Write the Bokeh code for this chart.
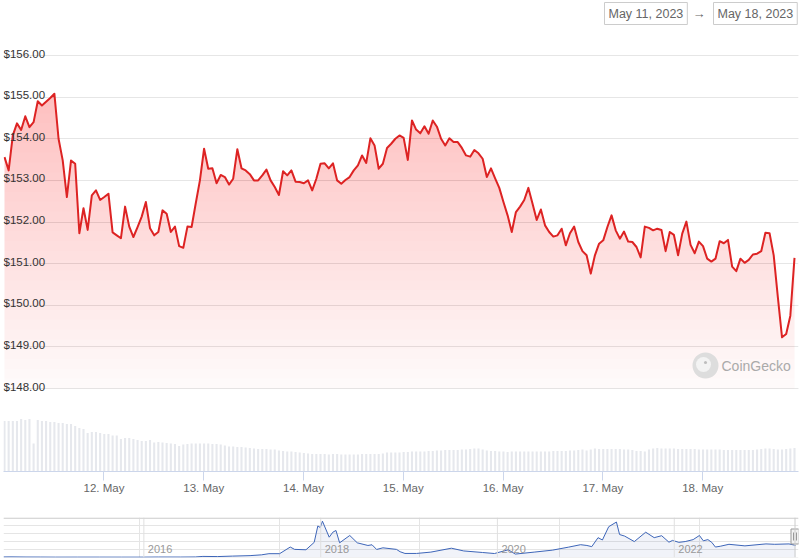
import numpy as np
import pandas as pd
from bokeh.plotting import figure
from bokeh.models import Range1d, FixedTicker, DatetimeTickFormatter, Label, Span, Grid
from bokeh.layouts import column
from bokeh.embed import file_html
from bokeh.resources import INLINE
from bokeh.core.properties import value

HOUR = 3600000.0
FONT = "Liberation Sans"

# ---------------- data ----------------
start_time = "2023-05-11 00:05"
prices = [
    153.56, 153.24, 154.08, 154.37, 154.21, 154.54, 154.28, 154.40, 154.90, 154.80,
    154.89, 154.98, 155.08, 154.00, 153.48, 152.60, 153.48, 153.40, 151.73, 152.33,
    151.81, 152.64, 152.76, 152.53, 152.60, 152.68, 151.75, 151.68, 151.61, 152.37,
    151.89, 151.64, 151.88, 152.13, 152.48, 151.85, 151.68, 151.76, 152.28, 152.20,
    151.76, 151.89, 151.42, 151.38, 151.89, 151.88, 152.45, 153.00, 153.76, 153.28,
    153.29, 152.93, 153.13, 153.08, 152.90, 153.04, 153.75, 153.29, 153.24, 153.15,
    153.00, 153.00, 153.12, 153.26, 153.00, 152.84, 152.65, 153.22, 153.12, 153.24,
    152.97, 152.96, 152.93, 153.00, 152.76, 153.04, 153.40, 153.41, 153.29, 153.41,
    153.00, 152.92, 153.01, 153.08, 153.24, 153.36, 153.60, 153.42, 154.01, 153.84,
    153.28, 153.40, 153.78, 153.88, 154.00, 154.08, 154.02, 153.49, 154.44, 154.22,
    154.13, 154.30, 154.12, 154.44, 154.29, 154.00, 153.84, 154.01, 153.92, 153.92,
    153.78, 153.60, 153.57, 153.73, 153.65, 153.52, 153.08, 153.29, 153.05, 152.82,
    152.48, 152.16, 151.76, 152.24, 152.37, 152.53, 152.82, 152.44, 152.05, 152.30,
    151.92, 151.76, 151.65, 151.68, 151.84, 151.44, 151.73, 151.89, 151.52, 151.30,
    151.20, 150.76, 151.20, 151.48, 151.56, 151.88, 152.16, 151.80, 151.60, 151.77,
    151.53, 151.52, 151.40, 151.15, 151.89, 151.86, 151.80, 151.84, 151.81, 151.30,
    151.76, 151.69, 151.20, 151.72, 152.01, 151.45, 151.25, 151.53, 151.42, 151.12,
    151.05, 151.12, 151.54, 151.49, 151.57, 150.93, 150.82, 151.12, 151.02, 151.09,
    151.22, 151.24, 151.30, 151.74, 151.73, 151.20, 150.19, 149.23, 149.31, 149.75,
    151.14,
]
volumes_musd = [
    101, 101, 101, 101, 105, 103, 105, 56, 103, 101,
    101, 99, 99, 97, 97, 95, 95, 91, 87, 85,
    77, 79, 79, 77, 75, 75, 72, 72, 65, 67,
    67, 65, 63, 61, 61, 63, 58, 59, 58, 57,
    56, 55, 51, 54, 55, 56, 56, 56, 56, 56,
    55, 55, 54, 52, 50, 50, 49, 49, 48, 47,
    46, 45, 45, 45, 44, 44, 42, 41, 40, 40,
    39, 38, 37, 36, 35, 35, 35, 35, 34, 35,
    35, 34, 34, 34, 34, 34, 35, 35, 35, 35,
    35, 36, 38, 38, 38, 38, 39, 39, 40, 40,
    40, 40, 41, 41, 42, 42, 43, 43, 43, 43,
    44, 44, 45, 46, 46, 44, 42, 41, 41, 40,
    40, 39, 40, 40, 40, 40, 40, 40, 40, 40,
    40, 40, 41, 41, 41, 41, 42, 42, 43, 44,
    42, 44, 46, 45, 45, 45, 45, 45, 45, 44,
    44, 43, 41, 41, 40, 44, 46, 47, 46, 46,
    46, 46, 45, 45, 45, 45, 45, 44, 44, 44,
    44, 44, 44, 43, 43, 43, 43, 43, 43, 43,
    43, 44, 45, 46, 46, 45, 44, 44, 45, 46,
    47,
]
day_ticks = ["2023-05-12", "2023-05-13", "2023-05-14", "2023-05-15",
             "2023-05-16", "2023-05-17", "2023-05-18"]
price_ticks = [148, 149, 150, 151, 152, 153, 154, 155, 156]
price_labels = ["$148.00", "$149.00", "$150.00", "$151.00", "$152.00",
                "$153.00", "$154.00", "$155.00", "$156.00"]
range_labels = ["May 11, 2023", "May 18, 2023"]
brand = "CoinGecko"

nav_dates = [
    "2014-05-31", "2014-07-01", "2014-09-01", "2014-11-01", "2015-01-01", "2015-04-01", "2015-07-01", "2015-10-01", "2016-01-01", "2016-03-01",
    "2016-06-01", "2016-08-01", "2016-09-01", "2016-11-01", "2017-01-01", "2017-03-15", "2017-05-01", "2017-06-01", "2017-07-15", "2017-08-28",
    "2017-09-15", "2017-11-01", "2017-12-05", "2017-12-20", "2017-12-30", "2018-01-08", "2018-02-05", "2018-02-20", "2018-03-05", "2018-03-20",
    "2018-05-01", "2018-06-01", "2018-07-15", "2018-08-01", "2018-08-20", "2018-09-15", "2018-11-10", "2018-11-25", "2018-12-15", "2019-02-01",
    "2019-04-01", "2019-06-25", "2019-08-15", "2019-11-01", "2019-12-20", "2020-02-15", "2020-03-15", "2020-06-01", "2020-08-15", "2020-10-20",
    "2020-12-10", "2021-01-05", "2021-01-25", "2021-02-20", "2021-03-10", "2021-04-05", "2021-05-07", "2021-05-20", "2021-06-10", "2021-07-20",
    "2021-09-05", "2021-10-10", "2021-11-10", "2021-12-10", "2021-12-25", "2022-01-20", "2022-02-15", "2022-03-20", "2022-04-15", "2022-05-01",
    "2022-05-20", "2022-06-05", "2022-06-20", "2022-07-10", "2022-08-15", "2022-10-20", "2023-01-15", "2023-02-20", "2023-04-20", "2023-05-18",
]
nav_prices = [
    3, 4, 2, 1.5, 0.5, 0.8, 0.8, 0.5, 0.5, 2,
    1.5, 3, 10, 8, 14, 20, 30, 45, 45, 130,
    100, 95, 190, 400, 380, 461, 256, 320, 342, 184,
    278, 184, 150, 159, 99, 120, 100, 70, 48, 48,
    65, 115, 80, 60, 47, 95, 40, 65, 90, 128,
    160, 150, 135, 250, 220, 390, 450, 290, 270, 200,
    320, 250, 275, 192, 215, 190, 200, 225, 278, 210,
    225, 190, 130, 140, 165, 145, 170, 165, 170, 151,
]
year_ticks = ["2016-01-01", "2018-01-01", "2020-01-01", "2022-01-01"]
year_labels = ["2016", "2018", "2020", "2022"]


def ms(s):
    return pd.Timestamp(s).value / 1e6


# ---------------- main chart ----------------
W = 800
FRAME_W = 795          # page x 3 .. 798
FRAME_H = 471          # page y 0 .. 471
PX_PER_USD = 41.63
t0 = ms(start_time)
N = len(prices)
xs = [t0 + i * HOUR for i in range(N)]

hpx = (N - 1) / 790.0  # hours per pixel
x_start = t0 - 1.0 * hpx * HOUR
x_end = t0 + (N - 1 + 4.0 * hpx) * HOUR
y_end = 156 + 55 / PX_PER_USD
y_start = y_end - FRAME_H / PX_PER_USD

p = figure(width=W, height=505, x_axis_type="datetime", y_axis_location=None,
           x_range=Range1d(x_start, x_end), y_range=Range1d(y_start, y_end),
           output_backend="svg", toolbar_location=None,
           min_border_left=3, min_border_right=2, min_border_top=0, min_border_bottom=34)
p.outline_line_color = None
p.background_fill_color = "white"
p.border_fill_color = "white"
p.xgrid.visible = False
p.extra_y_ranges = {"vol": Range1d(0, FRAME_H * 2)}

p.add_layout(Grid(dimension=1, ticker=FixedTicker(ticks=price_ticks),
                  grid_line_color="#e6e6e6", grid_line_width=1))

# volume bars
p.vbar(x=xs, top=volumes_musd, bottom=0, width=0.5 * HOUR, y_range_name="vol",
       fill_color="#e6e8ed", line_color=None)

# gradient fill under price line (stacked translucent layers)
pr = np.array(prices)
base = price_ticks[0]
top = pr.max()
n_layers = 30
levels = np.linspace(base, top, n_layers + 1)[:-1]
step = (top - base) / n_layers
prev_c = 0.0
for lo in levels:
    c = 0.02 + 0.18 * ((lo + step / 2) - base) / (top - base)
    a = 1 - (1 - c) / (1 - prev_c)
    prev_c = c
    p.varea(x=xs, y1=np.full(N, lo), y2=np.maximum(pr, lo),
            fill_color="#dc2626", fill_alpha=float(a))

p.line(x=xs, y=prices, line_color="#dd2323", line_width=2, line_join="round")

# y labels inside plot, just above each gridline
p.text(x=[x_start] * len(price_ticks),
       y=[t + 2.0 / PX_PER_USD for t in price_ticks], text=price_labels,
       text_baseline="alphabetic", text_align="left",
       text_font=value(FONT), text_font_size="11.5px", text_color="#333333")

# x axis
ax = p.xaxis[0]
ax.ticker = FixedTicker(ticks=[ms(d) for d in day_ticks])
ax.formatter = DatetimeTickFormatter(hours="%d. %b", hourmin="%d. %b", days="%d. %b",
                                     months="%d. %b", minutes="%d. %b")
ax.axis_line_color = "#ccd6eb"
ax.major_tick_line_color = "#ccd6eb"
ax.major_tick_out = 9
ax.major_tick_in = 0
ax.minor_tick_line_color = None
ax.major_label_standoff = 1
ax.major_label_text_font = FONT
ax.major_label_text_font_size = "11.5px"
ax.major_label_text_color = "#666666"

# watermark
def fx(px):
    return x_start + px / FRAME_W * (x_end - x_start)

def fy(px_from_top):
    return y_end - px_from_top / FRAME_H * (y_end - y_start)

p.scatter(x=[fx(702)], y=[fy(365)], size=26, marker="circle",
          fill_color="#dddddd", line_color=None)
p.scatter(x=[fx(700)], y=[fy(364)], size=15, marker="circle",
          fill_color="#f3f3f3", line_color=None)
p.scatter(x=[fx(702)], y=[fy(362)], size=3, marker="circle",
          fill_color="#bdbdbd", line_color=None)
p.add_layout(Label(x=718, y=106, x_units="screen", y_units="screen", text=brand,
                   text_font=FONT, text_font_size="14px", text_color="#aaaaaa",
                   text_baseline="middle", text_align="left"))

# date range boxes
p.add_layout(Label(x=601, y=458, x_units="screen", y_units="screen", text=range_labels[0],
                   text_font=FONT, text_font_size="12.5px", text_color="#666666",
                   text_baseline="middle", text_align="left",
                   border_line_color="#cccccc", border_line_width=1, padding=4))
p.add_layout(Label(x=689, y=458, x_units="screen", y_units="screen", text="\u2192",
                   text_font=FONT, text_font_size="13px", text_color="#666666",
                   text_baseline="middle", text_align="left"))
p.add_layout(Label(x=710, y=458, x_units="screen", y_units="screen", text=range_labels[1],
                   text_font=FONT, text_font_size="12.5px", text_color="#666666",
                   text_baseline="middle", text_align="left",
                   border_line_color="#cccccc", border_line_width=1, padding=4))

# ---------------- navigator ----------------
NAV_H = 40
n_first, n_last = ms("2014-05-31"), ms("2023-05-17")   # page x 3 .. 795
npx = (n_last - n_first) / 792.0
nx_start, nx_end = n_first, n_last + 3 * npx
ny_start, ny_end = -4, 508
npy = (ny_end - ny_start) / NAV_H
nav = figure(width=W, height=54, x_axis_location=None, y_axis_location=None,
             x_range=Range1d(nx_start, nx_end), y_range=Range1d(ny_start, ny_end),
             output_backend="svg", toolbar_location=None,
             min_border_left=3, min_border_right=2, min_border_top=12, min_border_bottom=2)
nav.outline_line_color = None
nav.background_fill_color = "white"
nav.border_fill_color = "white"

for yt in year_ticks:
    nav.add_layout(Span(location=ms(yt), dimension="height", line_color="#e0e0e0", line_width=1))

nd = [ms(d) for d in nav_dates]
nav.varea(x=nd, y1=np.zeros(len(nd)), y2=nav_prices, fill_color="#335cad", fill_alpha=0.07)
nav.line(x=nd, y=nav_prices, line_color="#3d65b8", line_width=1)

nav.text(x=[ms(y) + 4 * npx for y in year_ticks], y=[ny_start + 8.5 * npy] * len(year_ticks),
         text=year_labels, text_baseline="middle", text_align="left",
         text_font=value(FONT), text_font_size="11px", text_color="#999999")

nav.add_layout(Span(location=ny_end - 0.5 * npy, dimension="width", line_color="#cccccc", line_width=1))
hx = n_last - 0.5 * npx
nav.add_layout(Span(location=hx, dimension="height", line_color="#cccccc", line_width=1))
hy = ny_end - 19 * npy
nav.rect(x=[hx], y=[hy], width=8, height=15, width_units="screen", height_units="screen",
         fill_color="#f2f2f2", line_color="#999999", line_width=1)
nav.segment(x0=[hx - 1.5 * npx, hx + 1.5 * npx], y0=[hy - 4 * npy] * 2,
            x1=[hx - 1.5 * npx, hx + 1.5 * npx], y1=[hy + 4 * npy] * 2,
            line_color="#999999", line_width=1)

layout = column(p, nav, spacing=0)
open("out.html", "w").write(file_html(layout, INLINE))
